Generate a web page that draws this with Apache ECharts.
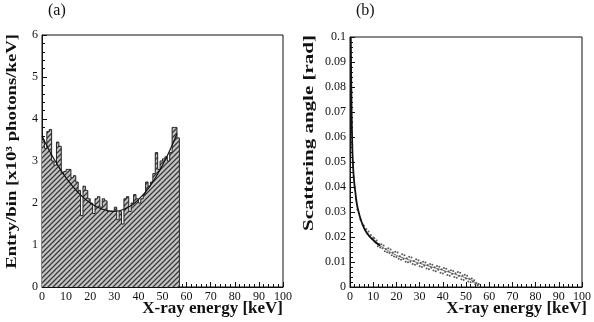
<!DOCTYPE html>
<html>
<head>
<meta charset="utf-8">
<script src="https://cdn.jsdelivr.net/npm/echarts@6/dist/echarts.min.js"></script>
<style>
  html, body { margin: 0; padding: 0; background: #fff; }
  #main { width: 594px; height: 322px; }
</style>
</head>
<body>
<div id="main"></div>
<script>
var chart = echarts.init(document.getElementById('main'));

// (a) histogram, 1 keV bins starting at 0 keV
var binStart = [0, 1, 2, 3, 4, 5, 6, 7, 8, 9, 10, 11, 12, 13, 14, 15, 16, 17, 18, 19,
    20, 21, 22, 23, 24, 25, 26, 27, 28, 29, 30, 31, 32, 33, 34, 35, 36, 37, 38, 39,
    40, 41, 42, 43, 44, 45, 46, 47, 48, 49, 50, 51, 52, 53, 54, 55, 56, 57];
var binCount = [3.5, 3.3, 3.7, 3.75, 3.0, 2.9, 3.45, 3.35, 2.7, 2.75, 2.8, 2.8, 2.6, 2.65, 2.5, 2.3, 1.7, 2.4, 2.3, 2.1,
    2.0, 1.75, 2.1, 2.15, 1.9, 2.1, 2.05, 1.8, 1.8, 1.8, 1.9, 1.6, 1.8, 1.5, 2.1, 2.15, 1.8, 2.0, 2.2, 2.1,
    2.0, 2.1, 2.2, 2.5, 2.4, 2.5, 2.7, 3.2, 2.8, 3.0, 3.05, 3.1, 3.0, 3.2, 3.8, 3.8, 3.55, 0];

// (a) fitted curve
var fitE = [0, 3, 6, 10, 15, 20, 25, 30, 35, 40, 45, 50, 53, 56];
var fitY = [3.6, 3.25, 2.95, 2.6, 2.25, 2.0, 1.85, 1.8, 1.88, 2.08, 2.42, 2.9, 3.25, 3.65];

// (b) scattering angle vs energy: dense core near low energy
var coreE = [0.35, 0.5, 0.7, 0.9, 1.1, 1.4, 1.8, 2.3, 3, 4, 5, 7, 10, 13];
var coreA = [0.1, 0.085, 0.07, 0.06, 0.053, 0.047, 0.042, 0.038, 0.033, 0.029, 0.026, 0.022, 0.0188, 0.0165];
// thinner band centre further out
var tailE = [13, 16, 20, 25, 30, 35, 40, 45, 50, 53, 55.5];
var tailA = [0.0165, 0.0148, 0.0127, 0.011, 0.0095, 0.0081, 0.0067, 0.0052, 0.0036, 0.0024, 0.0006];
// individual events
var dotE = [0.5, 0.6, 0.8, 1.0, 1.2, 1.5, 2, 2.6, 3.2, 4.5, 5.5, 6, 6.5, 7, 7.5, 8, 8.5, 9, 9.5, 10,
    10.5, 11, 11.5, 12, 12.5, 13, 13.5, 14, 14.5, 15, 15.5, 16, 16.5, 17, 17.5, 18, 18.5, 19, 19.5, 20,
    20.5, 21, 21.5, 22, 22.5, 23, 23.5, 24, 24.5, 25, 25.5, 26, 26.5, 27, 27.5, 28, 28.5, 29, 29.5, 30,
    30.5, 31, 31.5, 32, 32.5, 33, 33.5, 34, 34.5, 35, 35.5, 36, 36.5, 37, 37.5, 38, 38.5, 39, 39.5, 40,
    40.5, 41, 41.5, 42, 42.5, 43, 43.5, 44, 44.5, 45, 45.5, 46, 46.5, 47, 47.5, 48, 48.5, 49, 49.5, 50,
    50.5, 51, 51.5, 52, 52.5, 53, 53.5, 54, 54.5, 55, 55.5];
var dotA = [0.092, 0.078, 0.066, 0.057, 0.05, 0.044, 0.04, 0.035, 0.031, 0.027, 0.025, 0.0245, 0.0228, 0.0232, 0.0212, 0.0222, 0.0202, 0.0208, 0.0192, 0.0198,
    0.0195, 0.0178, 0.0186, 0.0163, 0.0172, 0.0158, 0.0171, 0.0155, 0.0166, 0.0143, 0.0152, 0.0139, 0.0155, 0.0136, 0.015, 0.0127, 0.0138, 0.0122, 0.0141, 0.012,
    0.0138, 0.0113, 0.0123, 0.0109, 0.0131, 0.0112, 0.0127, 0.0101, 0.0115, 0.0099, 0.0121, 0.0101, 0.0118, 0.0092, 0.0104, 0.0089, 0.0111, 0.0093, 0.0107, 0.0083,
    0.0097, 0.008, 0.0101, 0.0085, 0.0098, 0.0074, 0.0088, 0.0071, 0.0092, 0.0077, 0.0089, 0.0066, 0.0079, 0.0063, 0.0084, 0.0069, 0.0081, 0.0057, 0.0071, 0.0054,
    0.0076, 0.006, 0.0073, 0.0048, 0.0063, 0.0045, 0.0067, 0.0052, 0.0064, 0.004, 0.0055, 0.0037, 0.006, 0.0044, 0.0057, 0.0031, 0.0046, 0.0028, 0.0049, 0.0034,
    0.0045, 0.0022, 0.0033, 0.0019, 0.0034, 0.0021, 0.0027, 0.0011, 0.0016, 0.0007, 0.0012];

function zip(a, b) {
    var out = [];
    for (var i = 0; i < a.length; i++) out.push([a[i], b[i]]);
    return out;
}

// hatched fill pattern
var hatch = document.createElement('canvas');
hatch.width = 5;
hatch.height = 5;
var hc = hatch.getContext('2d');
hc.fillStyle = '#c4c4c4';
hc.fillRect(0, 0, 5, 5);
hc.strokeStyle = '#3a3a3a';
hc.lineWidth = 1.3;
hc.beginPath();
hc.moveTo(0, 5); hc.lineTo(5, 0);
hc.moveTo(-2.5, 2.5); hc.lineTo(2.5, -2.5);
hc.moveTo(2.5, 7.5); hc.lineTo(7.5, 2.5);
hc.stroke();

var serif = '"Liberation Serif", "DejaVu Serif", serif';
var tickLabel = { color: '#111', fontFamily: serif, fontSize: 12, margin: 4 };

function xAxisOf(gi) {
    return {
        gridIndex: gi, type: 'value', min: 0, max: 100, interval: 10,
        axisLine: { lineStyle: { color: '#111', width: 1 } },
        axisTick: { inside: true, length: 5, lineStyle: { color: '#111' } },
        minorTick: { show: true, splitNumber: 5, length: 3, lineStyle: { color: '#111' } },
        axisLabel: tickLabel,
        splitLine: { show: false }
    };
}

option = {
    backgroundColor: '#fff',
    animation: false,
    grid: [
        { left: 42, right: 311, top: 35, bottom: 35, show: true, borderColor: '#111', borderWidth: 1 },
        { left: 350, right: 8, top: 37, bottom: 35, show: true, borderColor: '#111', borderWidth: 1 }
    ],
    xAxis: [xAxisOf(0), xAxisOf(1)],
    yAxis: [{
        gridIndex: 0, type: 'value', min: 0, max: 6, interval: 1,
        axisLine: { show: true, lineStyle: { color: '#111' } },
        axisTick: { inside: true, length: 5, lineStyle: { color: '#111' } },
        minorTick: { show: true, splitNumber: 5, length: 3, lineStyle: { color: '#111' } },
        axisLabel: tickLabel,
        splitLine: { show: false }
    }, {
        gridIndex: 1, type: 'value', min: 0, max: 0.1, interval: 0.01,
        axisLine: { show: true, lineStyle: { color: '#111' } },
        axisTick: { inside: true, length: 5, lineStyle: { color: '#111' } },
        minorTick: { show: true, splitNumber: 5, length: 3, lineStyle: { color: '#111' } },
        axisLabel: {
            color: '#111', fontFamily: serif, fontSize: 12, margin: 4,
            formatter: function (v) { return v === 0 ? '0' : +v.toFixed(2) + ''; }
        },
        splitLine: { show: false }
    }],
    graphic: [
        { type: 'text', left: 48, top: 3, style: { text: '(a)', font: '16px ' + serif, fill: '#111' } },
        { type: 'text', left: 356, top: 3, style: { text: '(b)', font: '16px ' + serif, fill: '#111' } },
        { type: 'text', left: 5, top: 34, rotation: Math.PI / 2, scaleX: 1.25,
          style: { text: 'Entry/bin [x10³ photons/keV]', font: 'bold 15px ' + serif, fill: '#111' } },
        { type: 'text', left: 302, top: 35, rotation: Math.PI / 2, scaleX: 1.4,
          style: { text: 'Scattering angle [rad]', font: 'bold 15px ' + serif, fill: '#111' } },
        { type: 'text', right: 311, top: 300, style: { text: 'X-ray energy [keV]', font: 'bold 17px ' + serif, fill: '#111' } },
        { type: 'text', right: 7, top: 300, style: { text: 'X-ray energy [keV]', font: 'bold 17px ' + serif, fill: '#111' } }
    ],
    series: [{
        type: 'line', xAxisIndex: 0, yAxisIndex: 0, step: 'end', symbol: 'none',
        lineStyle: { color: '#222', width: 1 },
        areaStyle: { color: { image: hatch, repeat: 'repeat' }, opacity: 1 },
        data: zip(binStart, binCount)
    }, {
        type: 'line', xAxisIndex: 0, yAxisIndex: 0, smooth: true, symbol: 'none',
        lineStyle: { color: '#111', width: 1.2 },
        data: zip(fitE, fitY), z: 3
    }, {
        type: 'line', xAxisIndex: 1, yAxisIndex: 1, smooth: true, symbol: 'none',
        lineStyle: { color: '#111', width: 1.8 },
        data: zip(coreE, coreA)
    }, {
        type: 'line', xAxisIndex: 1, yAxisIndex: 1, smooth: true, symbol: 'none',
        lineStyle: { color: '#555', width: 0.8 },
        data: zip(tailE, tailA)
    }, {
        type: 'scatter', xAxisIndex: 1, yAxisIndex: 1, symbolSize: 2,
        itemStyle: { color: '#333' },
        data: zip(dotE, dotA)
    }]
};

chart.setOption(option);
</script>
</body>
</html>
